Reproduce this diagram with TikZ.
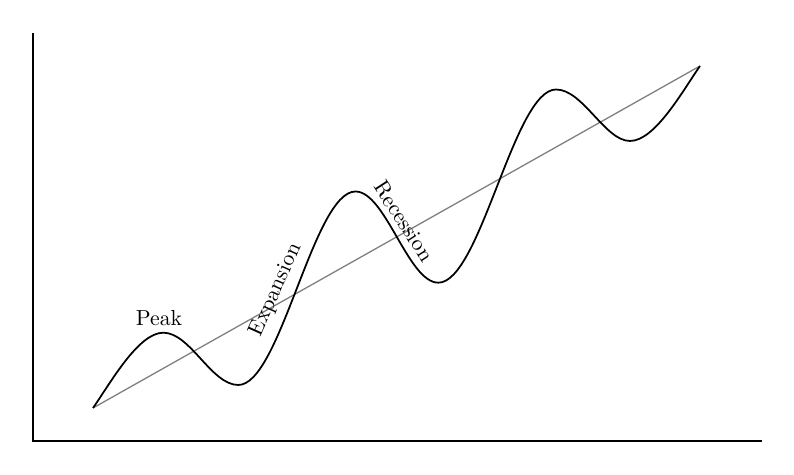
\documentclass[tikz,border=0pt]{standalone}
\usepackage{tikz}

\tikzset{
  trend/.style={gray, semithick},
  cycle/.style={black, thick},
  phase/.style={inner sep=0pt}
}

\begin{document}
\begin{tikzpicture}[x=0.1613cm, y=0.1613cm]
            \useasboundingbox (-3.3,-3.4) rectangle (76.1,44.1);
            % Axes
            \coordinate (O) at (0,0);
            \coordinate (ytop) at (0,40.8);
            \coordinate (xend) at (72.9,0);
            \draw[semithick] (ytop) -- (O) -- (xend);
            % Turning points
            \coordinate (start) at (6.0,3.3);
            \coordinate (p1) at (13.03,10.83);
            \coordinate (t1) at (20.53,5.6);
            \coordinate (p2) at (32.25,24.95);
            \coordinate (t2) at (40.53,15.83);
            \coordinate (p3) at (52.3,35.15);
            \coordinate (t3) at (59.7,30.0);
            \coordinate (end) at (66.7,37.5);
            % Trend
            \draw[trend] (start) -- (end);
            % Cycle
            \draw[cycle] (start) .. controls +(1.72,2.46) and +(-2.5,0) .. (p1)
                .. controls +(2.7,0) and +(-2.7,0) .. (t1)
                .. controls +(4.2,0) and +(-4.2,0) .. (p2)
                .. controls +(3.0,0) and +(-3.0,0) .. (t2)
                .. controls +(4.2,0) and +(-4.2,0) .. (p3)
                .. controls +(2.7,0) and +(-2.5,0) .. (t3)
                .. controls +(2.5,0) and +(-1.72,-2.46) .. (end);
            % Labels
            \node (peak) at (12.6,12.3) {Peak};
            \node[phase, rotate=66] (expansion) at (24.3,15.1) {Expansion};
            \node[phase, rotate=-57] (recession) at (37.1,22.0) {Recession};
        \end{tikzpicture}
\end{document}
